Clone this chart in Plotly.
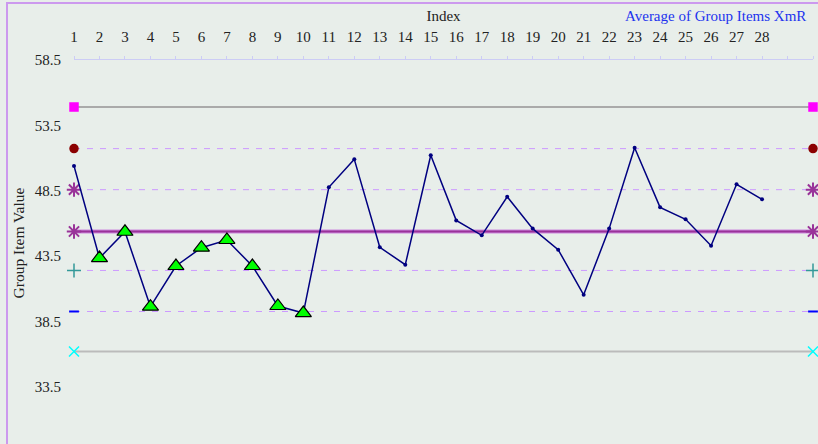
import plotly.graph_objects as go

index = list(range(1, 29))
values = [50.39, 43.35, 45.36, 39.63, 42.74, 44.14, 44.73, 42.74, 39.68, 39.14,
          48.76, 50.90, 44.17, 42.84, 51.21, 46.23, 45.09, 48.04, 45.60, 43.99,
          40.54, 45.60, 51.79, 47.23, 46.31, 44.29, 48.99, 47.84]
flagged = [2, 3, 4, 5, 6, 7, 8, 9, 10]

center = 45.38
ucl = 54.90
plus2 = 51.72
plus1 = 48.58
minus1 = 42.40
minus2 = 39.26
lcl = 36.20

x_span = [1, 30]
y_ticks = [58.5, 53.5, 48.5, 43.5, 38.5, 33.5]

FONT = "Liberation Serif"
BG = "#E8EEEA"

fig = go.Figure()

def limit(yv, color, width, dash, msym, mcolor, msize, mw=1.5):
    fig.add_trace(go.Scatter(
        x=x_span, y=[yv, yv], mode="lines+markers",
        line=dict(color=color, width=width, dash=dash),
        marker=dict(symbol=msym, color=mcolor, size=msize,
                    line=dict(color=mcolor, width=mw)),
        cliponaxis=False, showlegend=False, hoverinfo="skip"))

limit(ucl, "#AAAAAA", 2, "solid", "square", "#FF00FF", 8)
limit(plus2, "#CC99FF", 1, "6px,7px", "circle", "#8B0000", 8)
limit(plus1, "#CC99FF", 1, "6px,7px", "asterisk-open", "#993399", 12, 2)
limit(minus1, "#CC99FF", 1, "6px,7px", "cross-thin-open", "#339999", 10)
limit(minus2, "#CC99FF", 1, "6px,7px", "line-ew-open", "#0000FF", 7, 2)
limit(lcl, "#BBBBBB", 2, "solid", "x-thin-open", "#00FFFF", 10)

# center line (light outer + dark inner)
fig.add_trace(go.Scatter(x=x_span, y=[center, center], mode="lines",
                         line=dict(color="#CC88DD", width=4),
                         showlegend=False, hoverinfo="skip"))
fig.add_trace(go.Scatter(x=x_span, y=[center, center], mode="lines+markers",
                         line=dict(color="#993399", width=2),
                         marker=dict(symbol="asterisk-open", color="#993399", size=12,
                                     line=dict(color="#993399", width=2)),
                         cliponaxis=False, showlegend=False, hoverinfo="skip"))

# data
fig.add_trace(go.Scatter(x=index, y=values, mode="lines+markers",
                         line=dict(color="#000080", width=1.5),
                         marker=dict(symbol="circle", color="#000080", size=4),
                         cliponaxis=False, showlegend=False))
fx = [i for i in flagged]
fy = [values[i - 1] for i in flagged]
fig.add_trace(go.Scatter(x=fx, y=fy, mode="markers",
                         marker=dict(symbol="triangle-up", color="#00FF00", size=14,
                                     line=dict(color="#000000", width=1.2)),
                         cliponaxis=False, showlegend=False))

tickvals = list(range(1, 31))
ticktext = [str(i) if i <= 28 else "" for i in tickvals]

PW = 739.0
PH = 366.0

fig.update_layout(
    width=818, height=444,
    margin=dict(l=74, r=5, t=60, b=18),
    paper_bgcolor=BG, plot_bgcolor=BG,
    font=dict(family=FONT, size=15, color="#222222"),
    xaxis=dict(side="top", range=[1, 30], tickvals=tickvals, ticktext=ticktext,
               automargin=False,
               showgrid=False, zeroline=False, showline=True, linecolor="#CCCCF5",
               linewidth=1, ticks="outside", ticklen=3, tickcolor="#CCCCF5",
               ticklabelstandoff=8, tickfont=dict(size=15, family=FONT, color="#222222"),
               title=dict(text="Index", standoff=3, font=dict(size=15, family=FONT))),
    yaxis=dict(range=[30.5, 58.5], tickvals=y_ticks, ticktext=[f"{v:.1f}" for v in y_ticks],
               automargin=False,
               showgrid=False, zeroline=False, showline=False, ticks="",
               ticklabelstandoff=12, tickfont=dict(size=15, family=FONT, color="#222222"),
               title=dict(text="Group Item Value", standoff=6, font=dict(size=15.5, family=FONT))),
    shapes=[dict(type="rect", xref="paper", yref="paper",
                 x0=-67 / PW, x1=1.2, y0=-0.2, y1=1 + 57 / PH,
                 line=dict(color="#CC99EE", width=2), fillcolor="rgba(0,0,0,0)", layer="below")],
    annotations=[dict(text="Average of Group Items XmR", xref="paper", yref="paper",
                      x=(623 - 74) / PW, y=1 + 44 / PH, xanchor="left", yanchor="middle",
                      showarrow=False, font=dict(size=15, family=FONT, color="#2233EE"))],
)

fig.write_html("out.html", config={"displayModeBar": False},
               post_script="document.body.style.margin='0';document.body.style.overflow='hidden';")
